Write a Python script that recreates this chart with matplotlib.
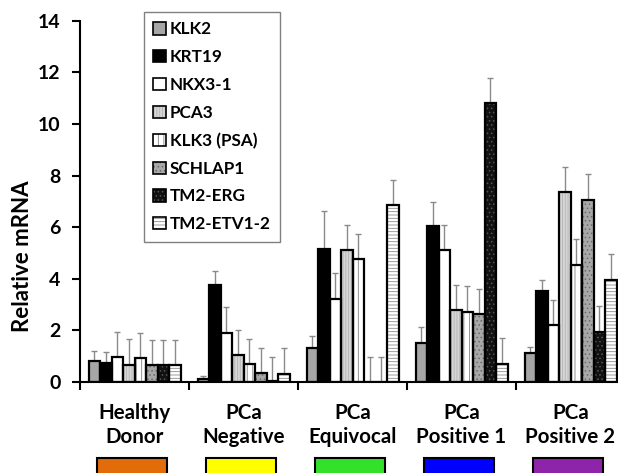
import matplotlib
matplotlib.use("Agg")
import matplotlib.pyplot as plt
import matplotlib.transforms as mtransforms
from matplotlib.patches import Patch, Rectangle
from matplotlib.legend_handler import HandlerTuple
import numpy as np

plt.rcParams['font.family'] = ['Lato', 'DejaVu Sans']
plt.rcParams['font.weight'] = 'bold'
plt.rcParams['hatch.linewidth'] = 0.6

groups = ["Healthy\nDonor", "PCa\nNegative", "PCa\nEquivocal", "PCa\nPositive 1", "PCa\nPositive 2"]
group_colors = ["#E36C0A", "#FFFF00", "#33E02A", "#0000FF", "#8E24AA"]
genes = ["KLK2", "KRT19", "NKX3-1", "PCA3", "KLK3 (PSA)", "SCHLAP1", "TM2-ERG", "TM2-ETV1-2"]

# values per gene across groups
KLK2 = [0.83, 0.13, 1.33, 1.51, 1.11]
KRT19 = [0.75, 3.76, 5.14, 6.05, 3.53]
NKX3_1 = [0.96, 1.89, 3.20, 5.10, 2.21]
PCA3 = [0.65, 1.03, 5.10, 2.78, 7.35]
KLK3 = [0.92, 0.71, 4.76, 2.72, 4.53]
SCHLAP1 = [0.65, 0.34, 0.0, 2.62, 7.07]
TM2_ERG = [0.65, 0.02, 0.0, 10.80, 1.95]
TM2_ETV1_2 = [0.65, 0.31, 6.86, 0.71, 3.97]

# upper error (SD) for each
KLK2_err = [0.38, 0.10, 0.47, 0.62, 0.25]
KRT19_err = [0.42, 0.55, 1.48, 0.92, 0.44]
NKX3_1_err = [0.98, 1.01, 1.01, 1.00, 0.98]
PCA3_err = [1.02, 0.99, 1.00, 0.98, 0.99]
KLK3_err = [0.99, 0.97, 0.99, 1.00, 1.01]
SCHLAP1_err = [0.99, 0.99, 0.98, 1.00, 0.98]
TM2_ERG_err = [0.99, 0.95, 0.98, 0.97, 0.98]
TM2_ETV1_2_err = [0.99, 0.99, 0.98, 1.01, 1.00]

values = [KLK2, KRT19, NKX3_1, PCA3, KLK3, SCHLAP1, TM2_ERG, TM2_ETV1_2]
errors = [KLK2_err, KRT19_err, NKX3_1_err, PCA3_err, KLK3_err, SCHLAP1_err, TM2_ERG_err, TM2_ETV1_2_err]

faces = ["#a6a6a6", "#000000", "#ffffff", "#d6d6d6", "#ffffff", "#a8a8a8", "#111111", "#ffffff"]
hatches = [None, None, None, "||||||", "|||", "....", "....", "-----"]
hatch_cols = [None, None, None, "#b4b4b4", "#808080", "#6a6a6a", "#555555", "#8c8c8c"]

W, H = 618, 473
fig = plt.figure(figsize=(W / 100, H / 100), dpi=100)
ax = fig.add_axes([80 / W, 1 - 382 / H, 545 / W, (382 - 20.7) / H])

bw = 0.1055
off = 0.08
x0 = np.arange(len(groups))
for k in range(len(genes)):
    xs = x0 + off + bw * (k + 0.5)
    ax.bar(xs, values[k], width=bw, color=faces[k], edgecolor="none", linewidth=0, zorder=2)
    if hatches[k]:
        ax.bar(xs, values[k], width=bw, color="none", edgecolor=hatch_cols[k],
               hatch=hatches[k], linewidth=0, zorder=3)
    ax.bar(xs, values[k], width=bw, color="none", edgecolor="black", linewidth=1.6, zorder=4)
    ax.errorbar(xs, values[k], yerr=[np.zeros(len(groups)), errors[k]], fmt="none",
                ecolor="#8a8a8a", elinewidth=1.0, capsize=2.2, capthick=1.0, zorder=1)

ax.set_xlim(0, 5)
ax.set_ylim(0, 14)
ax.set_yticks(np.arange(0, 15, 2))
ax.set_xticks(np.arange(0, 6))
ax.set_xticklabels([])
for s in ["top", "right"]:
    ax.spines[s].set_visible(False)
for s in ["left", "bottom"]:
    ax.spines[s].set_linewidth(1.5)
ax.tick_params(axis="y", direction="out", length=6, width=1.5, labelsize=14, pad=8)
ax.tick_params(axis="x", direction="out", length=6, width=1.5)
for lab in ax.get_yticklabels():
    lab.set_fontweight("bold")

fig.text(23 / W, 1 - 256 / H, "Relative mRNA", rotation=90, fontsize=16,
         fontweight="bold", ha="center", va="center")

# category labels and colored boxes
trans = mtransforms.blended_transform_factory(ax.transData, fig.transFigure)
for i, (g, c) in enumerate(zip(groups, group_colors)):
    ax.text(i + 0.5, 1 - 425 / H, g, transform=trans, ha="center", va="center",
            fontsize=14.8, fontweight="bold", linespacing=1.3, clip_on=False)
    rect = Rectangle((i + 0.5 - 0.34, -0.02), 0.64, 0.02 + (473 - 458) / H,
                     transform=trans, facecolor=c, edgecolor="black", linewidth=1.5,
                     clip_on=False)
    ax.add_artist(rect)

handles = []
for k in range(len(genes)):
    parts = [Patch(facecolor=faces[k], edgecolor="none", linewidth=0)]
    if hatches[k]:
        parts.append(Patch(facecolor="none", edgecolor=hatch_cols[k], linewidth=0,
                           hatch=hatches[k]))
    parts.append(Patch(facecolor="none", edgecolor="black", linewidth=1.2))
    handles.append(tuple(parts))
leg = ax.legend(handles=handles, labels=genes, loc="upper left",
                handler_map={tuple: HandlerTuple(ndivide=1, pad=0)},
                bbox_to_anchor=(144 / W, 1 - 12 / H), bbox_transform=fig.transFigure,
                frameon=True, fancybox=False, edgecolor="#808080", framealpha=1,
                prop={"weight": "bold", "size": 12.3}, handlelength=0.72, handleheight=0.72,
                handletextpad=0.25, labelspacing=0.69, borderpad=0.55, borderaxespad=0)
leg.get_frame().set_linewidth(1.0)

fig.savefig("out.png", dpi=100)
